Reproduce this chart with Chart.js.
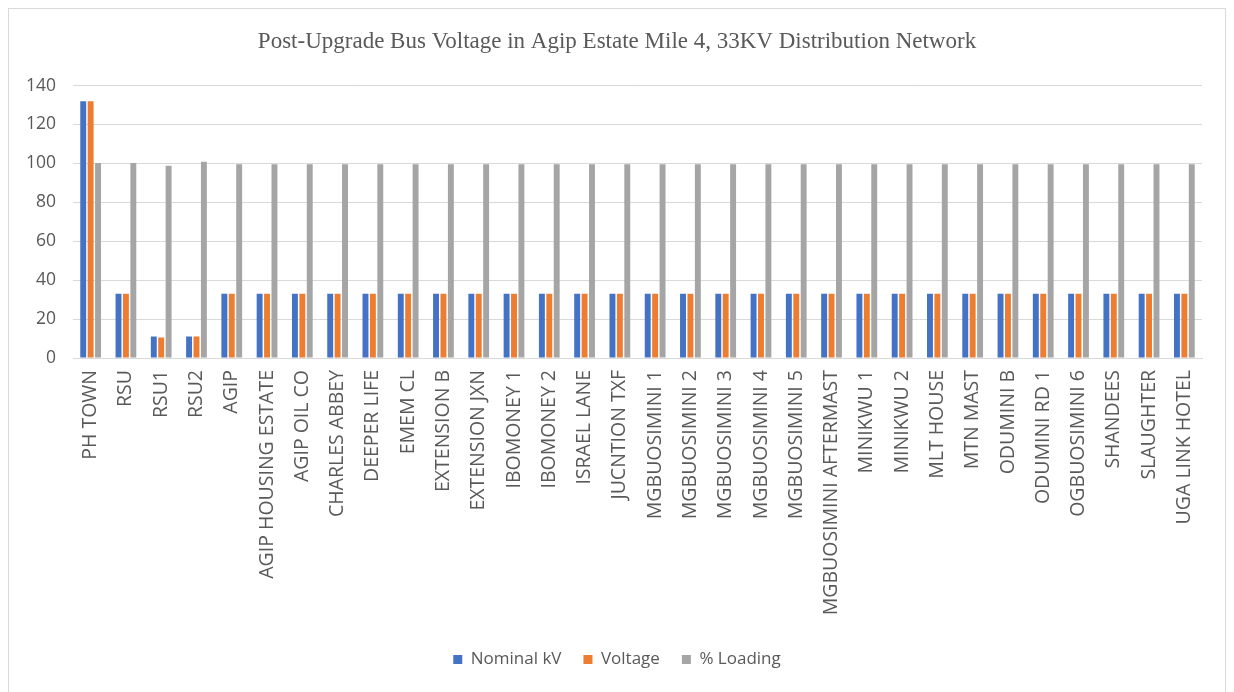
<!DOCTYPE html>
<html>
<head>
<meta charset="utf-8">
<title>Post-Upgrade Bus Voltage</title>
<script src="https://cdn.jsdelivr.net/npm/chart.js@4.4.0/dist/chart.umd.min.js"></script>
<style>
    html, body { margin: 0; padding: 0; background: #ffffff; }
    #wrap { position: relative; width: 1234px; height: 692px; overflow: hidden; }
    #frame {
        position: absolute; left: 8px; top: 8px; width: 1218px; height: 700px;
        border: 1px solid #d9d9d9; box-sizing: border-box;
    }
    #chart-box { position: absolute; left: 0; top: 0; width: 1234px; height: 692px; }
</style>
</head>
<body>
<div id="wrap">
    <div id="frame"></div>
    <div id="chart-box"><canvas id="chart-bus-voltage"></canvas></div>
</div>
<script>
// Buses of the 33KV feeder, in the order the chart shows them
const busNames = ['PH TOWN', 'RSU', 'RSU1', 'RSU2', 'AGIP', 'AGIP HOUSING ESTATE', 'AGIP OIL CO',
    'CHARLES ABBEY', 'DEEPER LIFE', 'EMEM CL', 'EXTENSION B', 'EXTENSION JXN', 'IBOMONEY 1',
    'IBOMONEY 2', 'ISRAEL LANE', 'JUCNTION TXF', 'MGBUOSIMINI 1', 'MGBUOSIMINI 2', 'MGBUOSIMINI 3',
    'MGBUOSIMINI 4', 'MGBUOSIMINI 5', 'MGBUOSIMINI AFTERMAST', 'MINIKWU 1', 'MINIKWU 2', 'MLT HOUSE',
    'MTN MAST', 'ODUMINI B', 'ODUMINI RD 1', 'OGBUOSIMINI 6', 'SHANDEES', 'SLAUGHTER', 'UGA LINK HOTEL'];

const nominalKv = [132, 33, 11, 11, 33, 33, 33, 33, 33, 33, 33, 33, 33, 33, 33, 33, 33, 33, 33, 33,
    33, 33, 33, 33, 33, 33, 33, 33, 33, 33, 33, 33];

const voltageKv = [132, 33, 10.5, 11, 33, 33, 33, 33, 33, 33, 33, 33, 33, 33, 33, 33, 33, 33, 33, 33,
    33, 33, 33, 33, 33, 33, 33, 33, 33, 33, 33, 33];

const loadingPct = [100.2, 100.2, 98.8, 100.8, 99.6, 99.6, 99.6, 99.6, 99.6, 99.6, 99.6, 99.6, 99.6,
    99.6, 99.6, 99.6, 99.6, 99.6, 99.6, 99.6, 99.6, 99.6, 99.6, 99.6, 99.6, 99.6, 99.6, 99.6, 99.6,
    99.6, 99.6, 99.6];

const yTicks = [0, 20, 40, 60, 80, 100, 120, 140];

const textGrey = '#595959';
const sansFont = "'Open Sans', 'Liberation Sans', sans-serif";

document.addEventListener('DOMContentLoaded', function() {
    const ctx = document.getElementById('chart-bus-voltage');

    new Chart(ctx, {
        type: 'bar',
        data: {
            labels: busNames,
            datasets: [
                { label: 'Nominal kV', data: nominalKv, backgroundColor: '#4472c4' },
                { label: 'Voltage', data: voltageKv, backgroundColor: '#ed7d31' },
                { label: '% Loading', data: loadingPct, backgroundColor: '#a5a5a5' }
            ]
        },
        options: {
            responsive: true,
            maintainAspectRatio: false,
            animation: false,
            categoryPercentage: 0.63,
            barPercentage: 0.8,
            layout: { padding: { left: 0, right: 0, top: 0, bottom: 14 } },
            plugins: {
                title: {
                    display: true,
                    text: 'Post-Upgrade Bus Voltage in Agip Estate Mile 4, 33KV Distribution Network',
                    color: textGrey,
                    font: { family: "'Liberation Serif', 'Times New Roman', serif", size: 23, weight: 'normal' },
                    padding: { top: 28, bottom: 30 }
                },
                legend: {
                    position: 'bottom',
                    labels: {
                        color: textGrey,
                        font: { family: sansFont, size: 17 },
                        boxWidth: 9,
                        boxHeight: 9,
                        padding: 22
                    }
                },
                tooltip: { enabled: false }
            },
            scales: {
                x: {
                    grid: { display: false, drawTicks: false },
                    border: { display: true, color: '#d9d9d9' },
                    ticks: {
                        color: textGrey,
                        font: { family: sansFont, size: 19.5 },
                        autoSkip: false,
                        minRotation: 90,
                        maxRotation: 90,
                        padding: 12
                    },
                    afterFit: function(scale) { scale.height = 271; }
                },
                y: {
                    min: 0,
                    max: 140,
                    grid: { color: '#d9d9d9', drawTicks: false },
                    border: { display: false },
                    afterBuildTicks: function(scale) {
                        scale.ticks = yTicks.map(v => ({ value: v }));
                    },
                    ticks: {
                        color: textGrey,
                        font: { family: sansFont, size: 17.5 },
                        padding: 17
                    },
                    afterFit: function(scale) { scale.width = 73; }
                },
                // empty right-hand axis: only reserves the blank strip right of the plot
                yRight: {
                    position: 'right',
                    min: 0,
                    max: 140,
                    grid: { display: false, drawTicks: false },
                    border: { display: false },
                    ticks: { display: false },
                    afterFit: function(scale) { scale.width = 32; }
                }
            }
        }
    });
});
</script>
</body>
</html>
